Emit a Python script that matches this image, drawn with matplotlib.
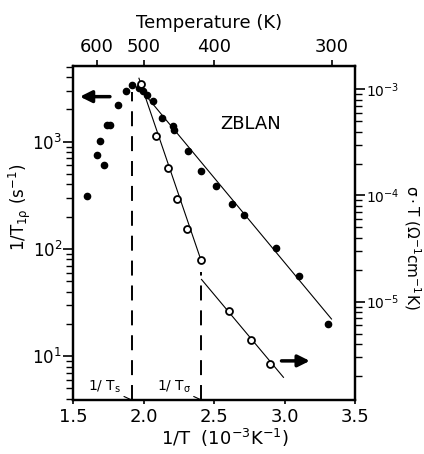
import numpy as np
import matplotlib
matplotlib.use("Agg")
import matplotlib.pyplot as plt

plt.rcParams["font.family"] = ["DejaVu Sans"]
plt.rcParams["mathtext.default"] = "regular"

# 1/T1rho (left axis), filled circles
inv_T_rho = [1.599, 1.670, 1.692, 1.718, 1.737, 1.762, 1.817, 1.874, 1.914, 1.966,
             1.992, 2.020, 2.063, 2.127, 2.210, 2.217, 2.311, 2.410, 2.512, 2.630,
             2.711, 2.938, 3.103, 3.309]
rate_rho = [310, 757, 1020, 603, 1418, 1440, 2208, 2940, 3390, 3160,
            3000, 2740, 2400, 1660, 1390, 1290, 813, 537, 390, 263,
            208, 101, 56, 19.9]
fit_rho_x = [1.99, 3.333]
fit_rho_y = [2950, 22.2]

# sigma*T (right axis), open circles
inv_T_sig = [1.980, 2.087, 2.174, 2.238, 2.304, 2.406, 2.605, 2.763, 2.895]
sigT = [1.12e-3, 3.63e-4, 1.80e-4, 9.33e-5, 4.8e-5, 2.47e-5, 8.17e-6, 4.39e-6, 2.6e-6]
fit_sig1_x = [1.966, 2.406]
fit_sig1_y = [1.27e-3, 2.47e-5]
fit_sig2_x = [2.41, 2.992]
fit_sig2_y = [1.62e-5, 1.94e-6]

inv_Ts = 1.915
inv_Tsig = 2.41
temp_ticks = [600, 500, 400, 300]

fig = plt.figure(figsize=(4.24, 4.54), dpi=100)
ax = fig.add_axes([0.1729, 0.1189, 0.6644, 0.7364])
ax2 = ax.twinx()

ax.set_xlim(1.5, 3.5)
ax.set_yscale("log")
ax.set_ylim(3.896, 5117)
ax2.set_yscale("log")
ax2.set_ylim(1.186e-6, 1.667e-3)

# fit lines
ax.plot(fit_rho_x, fit_rho_y, color="black", lw=0.8, zorder=2)
ax2.plot(fit_sig1_x, fit_sig1_y, color="black", lw=0.8, zorder=2)
ax2.plot(fit_sig2_x, fit_sig2_y, color="black", lw=0.8, zorder=2)

# data
ax.plot(inv_T_rho, rate_rho, "o", color="black", ms=4.5, zorder=3)
ax2.plot(inv_T_sig, sigT, "o", mfc="white", mec="black", mew=1.3, ms=5, zorder=3)

# characteristic temperatures
ax.plot([inv_Ts, inv_Ts], [3.896, 2900], color="black", lw=1.4, dashes=(7.7, 5.1))
ax2.plot([inv_Tsig, inv_Tsig], [1.186e-6, 1.9e-5], color="black", lw=1.4, dashes=(7.7, 5.1))

ax.annotate(r"1/ T$_s$", xy=(inv_Ts - 0.005, 3.92), xytext=(1.84, 4.75),
            ha="right", va="baseline", fontsize=10,
            arrowprops=dict(arrowstyle="-", lw=0.8, shrinkA=0, shrinkB=0, relpos=(1, 0)))
ax.annotate(r"1/ T$_\sigma$", xy=(inv_Tsig - 0.005, 3.92), xytext=(2.335, 4.75),
            ha="right", va="baseline", fontsize=10,
            arrowprops=dict(arrowstyle="-", lw=0.8, shrinkA=0, shrinkB=0, relpos=(1, 0)))

# axis arrows
ax.annotate("", xy=(1.547, 2632), xytext=(1.760, 2632),
            arrowprops=dict(arrowstyle="-|>,head_length=0.5,head_width=0.25", lw=2.5,
                            color="black", shrinkA=0, shrinkB=0, mutation_scale=14))
ax2.annotate("", xy=(3.179, 2.77e-6), xytext=(2.978, 2.77e-6),
             arrowprops=dict(arrowstyle="-|>,head_length=0.5,head_width=0.25", lw=2.5,
                             color="black", shrinkA=0, shrinkB=0, mutation_scale=14))

ax.text(0.631, 0.826, "ZBLAN", transform=ax.transAxes, fontsize=13,
        ha="center", va="center")

# ticks and labels
ax.set_xticks([1.5, 2.0, 2.5, 3.0, 3.5])
ax.set_xticklabels(["1.5", "2.0", "2.5", "3.0", "3.5"])
ax.tick_params(axis="x", direction="out", length=3, width=1.2, labelsize=13, pad=3)
ax.tick_params(axis="y", which="major", direction="out", length=7, width=1.2, labelsize=12, pad=1)
ax.tick_params(axis="y", which="minor", direction="out", length=5, width=1.0)
ax2.tick_params(axis="y", which="major", direction="out", length=7, width=1.2, labelsize=10, pad=1)
ax2.tick_params(axis="y", which="minor", direction="out", length=5, width=1.0)

top = ax.secondary_xaxis("top", functions=(lambda x: 1000.0 / x, lambda x: 1000.0 / x))
top.set_xticks(temp_ticks)
top.set_xticklabels([str(t) for t in temp_ticks])
top.tick_params(direction="out", length=4, width=1.2, labelsize=13, pad=3)
top.minorticks_off()
fig.text(209 / 424, 1 - 23 / 454, "Temperature (K)", fontsize=13, ha="center", va="center")

for a in (ax, ax2):
    for s in a.spines.values():
        s.set_linewidth(1.6)

ax.set_xlabel(r"1/T  (10$^{-3}$K$^{-1}$)", fontsize=13, va="center")
ax.xaxis.set_label_coords(0.539, -0.114)
ax.set_ylabel(r"1/T$_{1\rho}$ (s$^{-1}$)", fontsize=12, va="center")
ax.yaxis.set_label_coords(-0.19, 0.577)
ax2.set_ylabel(r"$\sigma\cdot$T ($\Omega^{-1}$cm$^{-1}$K)", fontsize=11, rotation=270, va="center")
ax2.yaxis.set_label_coords(1.205, 0.458)

fig.savefig("out.png", dpi=100)
